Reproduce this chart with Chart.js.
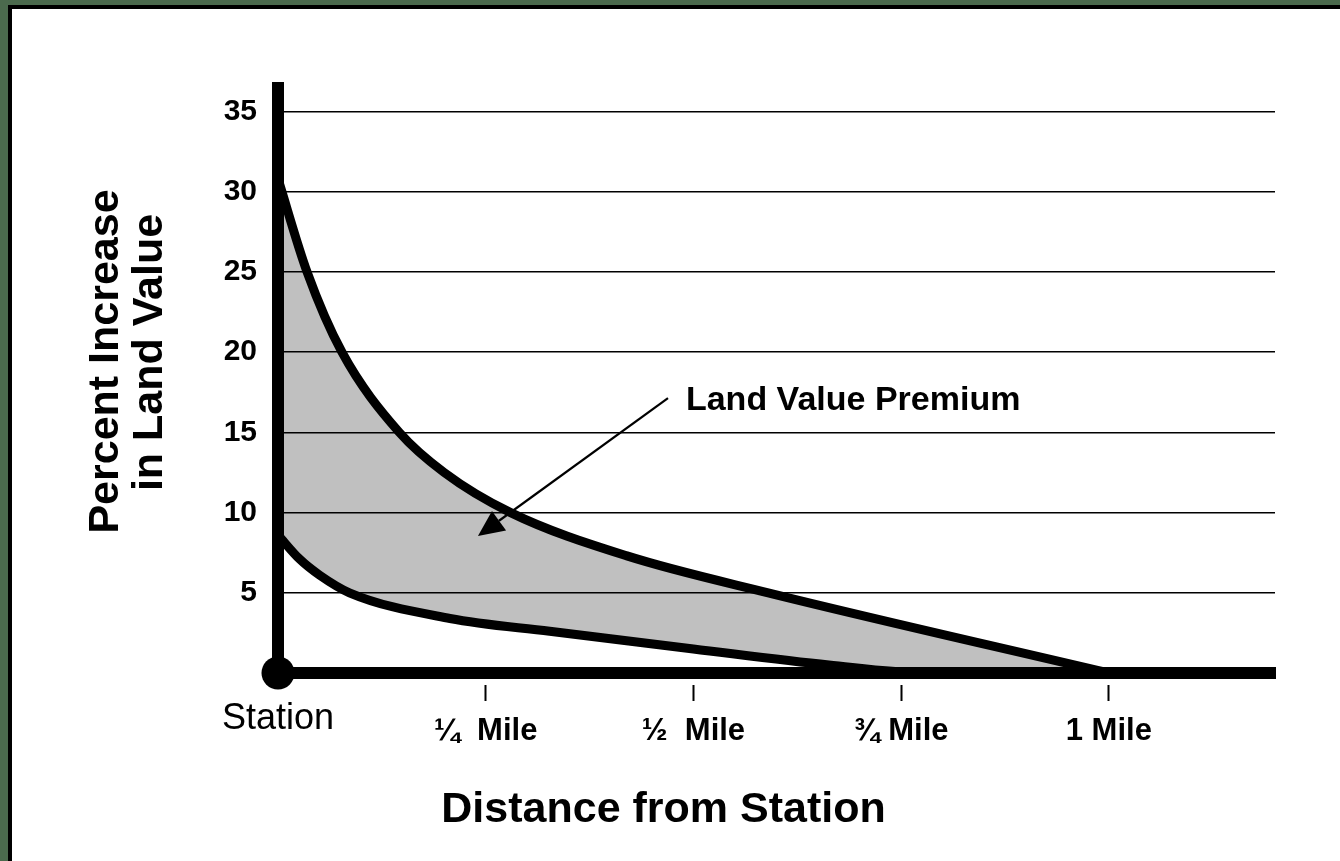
<!DOCTYPE html>
<html><head><meta charset="utf-8">
<script src="https://cdn.jsdelivr.net/npm/chart.js@4.4.1/dist/chart.umd.min.js"></script>
<style>html,body{margin:0;padding:0;background:#fff;overflow:hidden}canvas{display:block}</style>
</head><body>
<canvas id="c" width="1340" height="861"></canvas>
<script>
// ---- data ----
const xTickValues = [0, 0.25, 0.5, 0.75, 1];
const xTickLabels = ['Station', '\u00BC  Mile', '\u00BD  Mile', '\u00BE Mile', '1 Mile'];
const yTickValues = [5, 10, 15, 20, 25, 30, 35];

// upper bound of the premium band (miles, percent)
const upperX = [0, 0.035, 0.077, 0.146, 0.2, 0.28, 0.42, 0.59, 1.0];
const upperY = [30.8, 25, 20, 15, 12.5, 10, 7.3, 5.0, 0];
// lower bound of the premium band
const lowerX = [0, 0.026, 0.05, 0.086, 0.207, 0.327, 0.5, 0.663, 0.78, 1.0];
const lowerY = [8.6, 7.1, 6.1, 5.0, 3.4, 2.6, 1.5, 0.5, 0, 0];

const stationX = [0];
const stationY = [0];

const xTitle = 'Distance from Station';
const yTitle = ['Percent Increase', 'in Land Value'];
const noteText = 'Land Value Premium';

// ---- chart ----
const FONT = "'Liberation Sans', Arial, Helvetica, sans-serif";
Chart.defaults.font.family = FONT;
Chart.defaults.color = '#000';

const toPts = (xs, ys) => xs.map((x, i) => ({x: x, y: ys[i]}));

const framePlugin = {
  id: 'frame',
  beforeDraw(chart) {
    const ctx = chart.ctx;
    ctx.save();
    ctx.fillStyle = '#ffffff';
    ctx.fillRect(0, 0, chart.width, chart.height);
    ctx.fillStyle = '#4b6a4d';
    ctx.fillRect(0, 0, chart.width, 5);
    ctx.fillRect(0, 0, 8, chart.height);
    ctx.fillStyle = '#000';
    ctx.fillRect(8, 5, chart.width - 8, 4);
    ctx.fillRect(8, 5, 4, chart.height - 5);
    ctx.restore();
  }
};

const overlayPlugin = {
  id: 'overlay',
  afterDraw(chart) {
    const ctx = chart.ctx;
    const xs = chart.scales.x, ys = chart.scales.y;
    ctx.save();
    ctx.fillStyle = '#000';
    ctx.strokeStyle = '#000';
    // axis titles
    ctx.font = 'bold 43px ' + FONT;
    ctx.textBaseline = 'alphabetic';
    ctx.textAlign = 'center';
    ctx.fillText(xTitle, 663.5, 822);
    const yPos = [[118, 361.5], [162, 352.5]];
    yTitle.forEach((t, i) => {
      ctx.save();
      ctx.translate(yPos[i][0], yPos[i][1]);
      ctx.rotate(-Math.PI / 2);
      ctx.fillText(t, 0, 0);
      ctx.restore();
    });
    // annotation with arrow
    const tail = {x: xs.getPixelForValue(0.4694), y: ys.getPixelForValue(17.14)};
    const tip = {x: xs.getPixelForValue(0.2407), y: ys.getPixelForValue(8.54)};
    const ang = Math.atan2(tip.y - tail.y, tip.x - tail.x);
    const hl = 26, hw = 12;
    const bx = tip.x - hl * Math.cos(ang), by = tip.y - hl * Math.sin(ang);
    ctx.lineWidth = 2.2;
    ctx.beginPath();
    ctx.moveTo(tail.x, tail.y);
    ctx.lineTo(bx, by);
    ctx.stroke();
    ctx.beginPath();
    ctx.moveTo(tip.x, tip.y);
    ctx.lineTo(bx + hw * Math.sin(ang), by - hw * Math.cos(ang));
    ctx.lineTo(bx - hw * Math.sin(ang), by + hw * Math.cos(ang));
    ctx.closePath();
    ctx.fill();
    ctx.font = 'bold 34px ' + FONT;
    ctx.textAlign = 'left';
    ctx.fillText(noteText, xs.getPixelForValue(0.491), ys.getPixelForValue(16.4));
    ctx.restore();
  }
};

new Chart(document.getElementById('c'), {
  type: 'line',
  data: {
    datasets: [
      {
        label: 'Upper bound',
        data: toPts(upperX, upperY),
        borderColor: '#000',
        borderWidth: 9,
        backgroundColor: '#c0c0c0',
        fill: '+1',
        pointRadius: 0,
        cubicInterpolationMode: 'monotone',
        borderJoinStyle: 'round'
      },
      {
        label: 'Lower bound',
        data: toPts(lowerX, lowerY),
        borderColor: '#000',
        borderWidth: 9,
        fill: false,
        pointRadius: 0,
        cubicInterpolationMode: 'monotone',
        borderJoinStyle: 'round'
      },
      {
        type: 'scatter',
        label: 'Station',
        data: toPts(stationX, stationY),
        pointRadius: 16.5,
        pointBackgroundColor: '#000',
        pointBorderWidth: 0,
        showLine: false,
        clip: false
      }
    ]
  },
  options: {
    responsive: false,
    animation: false,
    devicePixelRatio: 1,
    layout: {padding: {left: 0, top: 88, right: 65, bottom: 0}},
    plugins: {
      legend: {display: false},
      tooltip: {enabled: false},
      filler: {drawTime: 'beforeDatasetsDraw'}
    },
    scales: {
      x: {
        type: 'linear',
        min: 0,
        max: 1.2,
        afterBuildTicks(s) { s.ticks = xTickValues.map(v => ({value: v})); },
        afterFit(s) { s.height = 188; },
        grid: {
          display: true,
          drawOnChartArea: false,
          drawTicks: true,
          tickLength: 28,
          tickWidth: 2,
          tickColor: (c) => (c.tick && c.tick.value === 0) ? 'rgba(0,0,0,0)' : '#000',
          tickBorderDash: [0, 6, 16, 100],
          z: 1
        },
        border: {display: true, color: '#000', width: 12, z: 1},
        ticks: {
          z: 1,
          padding: 12,
          maxRotation: 0,
          autoSkip: false,
          color: '#000',
          font: (c) => (c.tick && c.tick.value === 0)
            ? {size: 36, weight: 'normal', lineHeight: 0.325}
            : {size: 31, weight: 'bold', lineHeight: 1.2},
          callback: (v, i) => xTickLabels[i]
        }
      },
      y: {
        type: 'linear',
        min: 0,
        max: 36.47,
        afterBuildTicks(s) { s.ticks = yTickValues.map(v => ({value: v})); },
        afterFit(s) { s.width = 278; },
        grid: {color: '#000', lineWidth: 1.5, drawTicks: false, z: 1},
        border: {display: true, color: '#000', width: 12, z: 1},
        ticks: {
          z: 1,
          padding: 21,
          color: '#000',
          font: {size: 30, weight: 'bold'},
          callback: (v) => String(v)
        }
      }
    }
  },
  plugins: [framePlugin, overlayPlugin]
});
</script>
</body></html>
